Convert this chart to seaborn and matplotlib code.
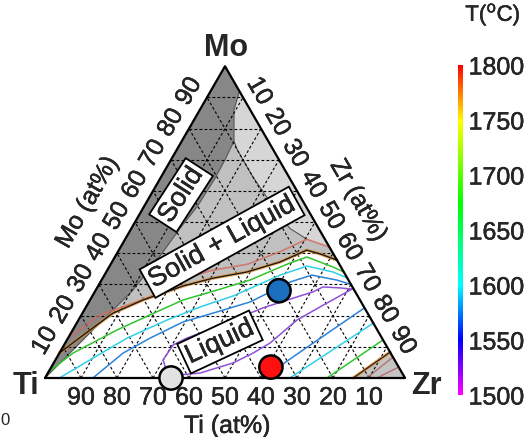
import numpy as np
import seaborn as sns
import matplotlib as mpl
import matplotlib.pyplot as plt
import matplotlib.patheffects as pe
from matplotlib.colors import LinearSegmentedColormap

# Ti-Zr-Mo liquidus projection, compositions in at% (Zr, Mo), Ti = balance

# boundary of the fully solid region (from the Mo corner down to Ti)
solid_zr = [8, 9.5, 12.5, 14.5, 15, 15.2, 14.8, 13.5, 12.5, 10.3, 5.6, 1.8, 0]
solid_mo = [92, 86, 80, 76, 70, 64, 55, 48, 40, 28, 15.4, 4.8, 0]

# thin boundary inside the solid + liquid field
inner_zr = [14.5, 17, 25.5, 37, 44, 50.5]
inner_mo = [76, 73, 64.5, 54, 48, 44.5]

# liquidus (black/orange) and the 1800 C line
liquidus_zr = [0, 4.8, 8.5, 14.7, 23.6, 30.6, 39.1, 46.7, 52.2, 56.5, 62.2]
liquidus_mo = [8, 15.4, 20.8, 25, 29.5, 32, 34, 37.2, 41, 39.8, 37.8]
t1800_zr = [0, 5, 16, 22, 29, 38, 45, 50.5, 58]
t1800_mo = [12.8, 20, 26, 31.5, 34.5, 36.5, 40.5, 44.5, 42]

# isotherms in the liquid field
green_zr = [0, 3.8, 12.3, 19, 25.8, 33.7, 41.2, 49.6, 53.4, 62.2, 66]
green_mo = [2, 8, 15.4, 20.2, 25, 28.2, 31.4, 36.9, 38.8, 35.6, 34]
cyan_zr = [4, 9.6, 16.4, 24.6, 31.7, 39.1, 48.8, 54.8, 63, 67.9]
cyan_mo = [0, 5.8, 12.8, 18.6, 22.8, 26.3, 33, 35.9, 34, 32.1]
blue_zr = [13.3, 17.7, 22.8, 29.4, 37.2, 44.8, 52.7, 57.6, 65.4, 70]
blue_mo = [0, 8, 12.8, 18, 21.2, 24.4, 30.8, 33, 31.4, 30]
purple_zr = [71, 67.5, 62.6, 60.6, 57, 49.3, 39.6, 33, 30.3, 29.9, 33.1,
             37, 42.3, 49.8, 53.8, 56.9, 60.7, 65, 71]
purple_mo = [28.5, 28.9, 29.2, 27.6, 26, 22.5, 16.4, 12.8, 10.6, 5.8, 1.6,
             1, 1.6, 4.8, 8, 11.2, 18.6, 22.8, 28.5]

# isotherms near the Zr corner
blue_lo_zr, blue_lo_mo = [60.5, 67.2, 77.5], [0, 9, 22.5]
cyan_lo_zr, cyan_lo_mo = [68, 82.4], [0, 17.6]
green_lo_zr, green_lo_mo = [78.3, 87.8], [0, 12.2]
brown_lo_zr, brown_lo_mo = [85.6, 91.7], [0, 8.3]
red_lo1_zr, red_lo1_mo = [89.4, 93.3], [0, 6.7]
red_lo2_zr, red_lo2_mo = [92.2, 96.5], [0, 3.5]

# alloy compositions
alloy_zr = [51, 61, 35]
alloy_mo = [28, 3.5, 0]
alloy_name = ['a', 'b', 'c']
alloy_colors = {'a': '#1c6fbf', 'b': '#ff1010', 'c': '#e2e2e2'}

ticks = [10, 20, 30, 40, 50, 60, 70, 80, 90]
cbar_ticks = [1500, 1550, 1600, 1650, 1700, 1750, 1800]

H = np.sqrt(3) / 2


def tern(zr, mo):
    zr = np.asarray(zr, float) / 100
    mo = np.asarray(mo, float) / 100
    return zr + mo / 2, mo * H


sns.set_theme(style='white')
plt.rcParams['font.family'] = ['Liberation Sans', 'DejaVu Sans']

fig = plt.figure(figsize=(5.3, 4.37), dpi=100)
ax = fig.add_axes([0, 0, 1, 1])
ax.set_xlim(-0.125, 1.3472)
ax.set_ylim(-0.1639, 1.05)
ax.axis('off')

# phase fields
ax.fill(*tern(liquidus_zr + [0], liquidus_mo + [100]), color='#c0c0c0', lw=0, zorder=1)
ax.fill(*tern(inner_zr + [t1800_zr[-1]] + solid_zr[:3], inner_mo + [t1800_mo[-1]] + solid_mo[:3]),
        color='#d6d6d6', lw=0, zorder=1)
ax.fill(*tern([0] + solid_zr, [100] + solid_mo), color='#878787', lw=0, zorder=1)
ax.fill(*tern(brown_lo_zr + [100], brown_lo_mo + [0]), color='#c4c4c4', lw=0, zorder=1)
ax.plot(*tern(solid_zr, solid_mo), color='#555555', lw=0.8, zorder=1.5)
ax.plot(*tern(inner_zr, inner_mo), color='#555555', lw=0.8, zorder=1.5)

# dashed composition grid
for v in ticks:
    for zr, mo in [([0, 100 - v], [v, v]), ([v, v], [0, 100 - v]), ([100 - v, 0], [0, 100 - v])]:
        ax.plot(*tern(zr, mo), color='black', lw=0.8, ls=(0, (2.5, 2)), zorder=2)

# lines
def curve(zr, mo, color, lw=1.1, alpha=1.0):
    x, y = tern(zr, mo)
    sns.lineplot(x=x, y=y, sort=False, estimator=None, color=color, lw=lw,
                 alpha=alpha, ax=ax, zorder=3)


curve(t1800_zr, t1800_mo, '#d46a5e', lw=1.2, alpha=0.8)
curve(liquidus_zr, liquidus_mo, '#e8902a', lw=2.4, alpha=0.7)
curve(liquidus_zr, liquidus_mo, '#1a1a1a', lw=1.0)
curve(green_zr, green_mo, '#2ec52e')
curve(cyan_zr, cyan_mo, '#2fd0ea')
curve(blue_zr, blue_mo, '#2b82d9')
curve(purple_zr, purple_mo, '#9050d8')
curve(blue_lo_zr, blue_lo_mo, '#2b82d9')
curve(cyan_lo_zr, cyan_lo_mo, '#2fd0ea')
curve(green_lo_zr, green_lo_mo, '#2ec52e')
curve(brown_lo_zr, brown_lo_mo, '#e8902a', lw=2.4, alpha=0.7)
curve(brown_lo_zr, brown_lo_mo, '#3a2a1a', lw=1.0)
curve(red_lo1_zr, red_lo1_mo, '#b05050', lw=1.0, alpha=0.7)
curve(red_lo2_zr, red_lo2_mo, '#b05050', lw=1.0, alpha=0.7)

# triangle frame
ax.plot(*tern([0, 100, 0, 0], [0, 0, 100, 0]), color='black', lw=1.6, zorder=4)

# alloys
ax_x, ax_y = tern(alloy_zr, alloy_mo)
sns.scatterplot(x=ax_x, y=ax_y, hue=alloy_name, palette=alloy_colors, s=280,
                edgecolor='black', linewidth=1.8, legend=False, ax=ax, zorder=5, clip_on=False)

# axis labels (slight stroke to match the heavier look of the original)
thick = [pe.withStroke(linewidth=0.3, foreground='black')]
fs = 18
for v in ticks:
    x, y = tern(100 - v, 0)
    ax.text(x, y - 0.054, str(v), ha='center', va='center', fontsize=fs, path_effects=thick)
    x, y = tern(0, v)
    ax.text(x - 0.051, y + 0.017, str(v), ha='center', va='center', fontsize=fs, rotation=60,
            path_effects=thick)
    x, y = tern(v, 100 - v)
    ax.text(x + 0.046, y + 0.018, str(v), ha='center', va='center', fontsize=fs, rotation=-60,
            path_effects=thick)

ax.text(0.506, -0.133, 'Ti (at%)', ha='center', va='center', fontsize=fs, path_effects=thick)
ax.text(0.117, 0.488, 'Mo (at%)', ha='center', va='center', fontsize=fs, rotation=60, path_effects=thick)
ax.text(0.871, 0.494, 'Zr (at%)', ha='center', va='center', fontsize=fs, rotation=-60, path_effects=thick)
ax.text(0.503, 0.917, 'Mo', ha='center', va='center', fontsize=22, fontweight='bold')
ax.text(-0.053, -0.022, 'Ti', ha='center', va='center', fontsize=22, fontweight='bold')
ax.text(1.058, -0.022, 'Zr', ha='center', va='center', fontsize=22, fontweight='bold')
ax.text(-0.111, -0.119, '0', ha='center', va='center', fontsize=12)

box = dict(boxstyle='square,pad=0.12', fc='white', ec='black', lw=1.3)
bfs = 19.5
ax.text(0.378, 0.508, 'Solid', ha='center', va='center', fontsize=bfs, rotation=57, bbox=box,
        zorder=6, path_effects=thick)
ax.text(0.492, 0.377, 'Solid + Liquid', ha='center', va='center', fontsize=bfs, rotation=29, bbox=box,
        zorder=6, path_effects=thick)
ax.text(0.486, 0.100, 'Liquid', ha='center', va='center', fontsize=bfs, rotation=25, bbox=box,
        zorder=6, path_effects=thick)

# colour bar
cmap = LinearSegmentedColormap.from_list(
    'temp', [(0, '#ff00ff'), (1 / 6, '#0000ff'), (1 / 3, '#00ffff'),
             (0.58, '#00ff00'), (0.83, '#ffff00'), (1, '#ff0000')])
cax = fig.add_axes([458 / 530, 42 / 437, 5 / 530, 330 / 437])
sm = mpl.cm.ScalarMappable(norm=mpl.colors.Normalize(1500, 1800), cmap=cmap)
cb = fig.colorbar(sm, cax=cax, ticks=cbar_ticks)
cb.outline.set_visible(False)
cb.ax.tick_params(length=0, pad=4, labelsize=18)
for t in cb.ax.get_yticklabels():
    t.set_path_effects(thick)
fig.text(493 / 530, 1 - 15 / 437, 'T($^{\\mathrm{o}}$C)', ha='center', va='center', fontsize=16,
         path_effects=thick)

fig.savefig('out.png', dpi=100)
